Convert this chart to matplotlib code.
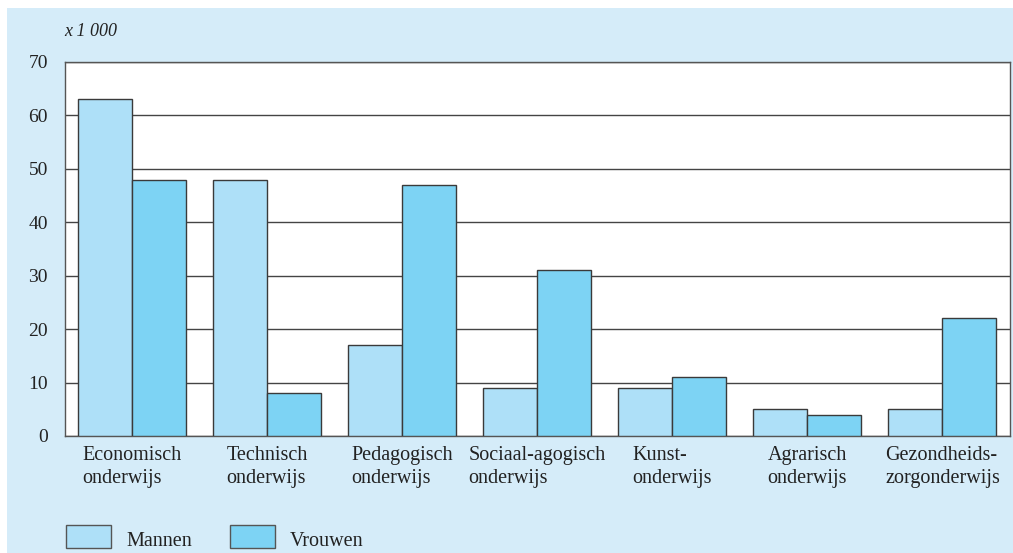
import numpy as np
import matplotlib.pyplot as plt
from matplotlib.patches import Rectangle

categories = ["Economisch\nonderwijs", "Technisch\nonderwijs", "Pedagogisch\nonderwijs",
              "Sociaal-agogisch\nonderwijs", "Kunst-\nonderwijs", "Agrarisch\nonderwijs",
              "Gezondheids-\nzorgonderwijs"]
mannen = [63, 48, 17, 9, 9, 5, 5]
vrouwen = [48, 8, 47, 31, 11, 4, 22]
yticks = [0, 10, 20, 30, 40, 50, 60, 70]

c_bg = "#d5ecf9"
c_man = "#aee0f8"
c_vrouw = "#7dd3f4"
c_edge = "#3a3a3a"

plt.rcParams["font.family"] = ["Liberation Serif", "DejaVu Serif"]

fig = plt.figure(figsize=(10.13, 5.53), dpi=100)
fig.patches.append(Rectangle((7 / 1013, 0), 1, 1 - 8 / 553, transform=fig.transFigure,
                             facecolor=c_bg, edgecolor="none", zorder=-10))

ax = fig.add_axes([64.5 / 1013, 1 - 436 / 553, (1010 - 64.5) / 1013, (436 - 62) / 553])
ax.set_facecolor("white")

x = np.arange(len(categories))
w = 0.4
ax.bar(x - w / 2, mannen, w, color=c_man, edgecolor=c_edge, linewidth=1, zorder=3, label="Mannen")
ax.bar(x + w / 2, vrouwen, w, color=c_vrouw, edgecolor=c_edge, linewidth=1, zorder=3, label="Vrouwen")

ax.set_xlim(-0.5, len(categories) - 0.5)
ax.set_ylim(0, 70)
ax.set_yticks(yticks)
ax.yaxis.grid(True, color="#444444", linewidth=1)
ax.set_axisbelow(True)
ax.tick_params(axis="y", length=0, pad=12, labelsize=14, colors="#222222")
ax.tick_params(axis="x", length=0)
ax.set_xticks(x)
ax.set_xticklabels([])
for xi, lab in zip(x, categories):
    ax.text(xi, -1.9, lab, ha="center", va="top", multialignment="left",
            fontsize=14.5, color="#222222", linespacing=1.3)
for s in ax.spines.values():
    s.set_color("#555555")
    s.set_linewidth(1)

fig.text(64 / 1013, 1 - 31 / 553, "x 1 000", fontsize=13, style="italic",
         ha="left", va="center", color="#222222")

# legend drawn by hand at the bottom
for bx, col, name in [(66, c_man, "Mannen"), (230, c_vrouw, "Vrouwen")]:
    fig.patches.append(Rectangle((bx / 1013, 1 - 548 / 553), 45 / 1013, 23 / 553,
                                 transform=fig.transFigure, facecolor=col,
                                 edgecolor="#555555", linewidth=1))
    fig.text((bx + 60) / 1013, 1 - 542 / 553, name, fontsize=14.5, ha="left",
             va="center", color="#222222")

fig.savefig("out.png", dpi=100)
